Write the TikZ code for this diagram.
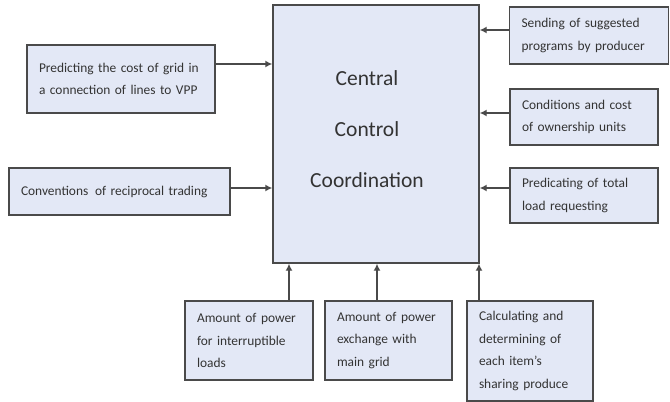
\documentclass[tikz,border=0pt]{standalone}
\usepackage{fontspec}
\setmainfont{Carlito}
\usetikzlibrary{arrows.meta}
\definecolor{boxfill}{HTML}{E3E8F6}
\definecolor{boxline}{HTML}{4A4A4A}
\definecolor{txt}{HTML}{333333}
\tikzset{
  infobox/.style={draw=boxline, line width=1.4pt, fill=boxfill, rectangle,
    inner xsep=12pt, inner ysep=0pt, align=left, text=txt,
    font=\fontsize{13.4}{22.5}\selectfont},
  arr/.style={draw=boxline, line width=1.4pt, -{Latex[length=7pt,width=7pt]}}
}
\begin{document}
\begin{tikzpicture}[x=1pt,y=-1pt]
\useasboundingbox (0,0) rectangle (670,402);
\node[infobox, minimum width=206pt, minimum height=258pt] (central) at (376,134) {};
\node[align=center, text=txt, font=\fontsize{21.5}{51}\selectfont] (ctext) at (367,129)
  {Central\\Control\\Coordination};
\node[infobox, minimum width=188pt, minimum height=68pt, text width=164pt] (l1) at (121,79)
  {Predicting the cost of grid in\\a connection of lines to VPP};
\node[infobox, minimum width=221pt, minimum height=47pt, text width=197pt] (l2) at (119.5,191.5)
  {Conventions\enspace of reciprocal trading};
\node[infobox, minimum width=159pt, minimum height=57pt, text width=135pt] (r1) at (589,35.5)
  {Sending of suggested\\programs by producer};
\node[infobox, minimum width=148pt, minimum height=56pt, text width=124pt] (r2) at (584,117)
  {Conditions and cost\\of ownership units};
\node[infobox, minimum width=148pt, minimum height=55pt, text width=124pt] (r3) at (584,195.5)
  {Predicating of total\\load requesting};
\node[infobox, minimum width=128pt, minimum height=79pt, text width=104pt] (b1) at (249,340.5)
  {Amount of power\\for interruptible\\loads};
\node[infobox, minimum width=127pt, minimum height=79pt, text width=103pt] (b2) at (388.5,340.5)
  {Amount of power\\exchange with\\main grid};
\node[infobox, minimum width=126pt, minimum height=100pt, text width=102pt] (b3) at (530,351)
  {Calculating and\\determining of\\each item's\\sharing produce};
\draw[arr] (l1.east |- 0,64) -- (central.west |- 0,64);
\draw[arr] (l2.east |- 0,188) -- (central.west |- 0,188);
\draw[arr] (r1.west |- 0,30) -- (central.east |- 0,30);
\draw[arr] (r2.west |- 0,113) -- (central.east |- 0,113);
\draw[arr] (r3.west |- 0,188) -- (central.east |- 0,188);
\draw[arr] (b1.north -| 289,0) -- (central.south -| 289,0);
\draw[arr] (b2.north -| 377,0) -- (central.south -| 377,0);
\draw[arr] (b3.north -| 479,0) -- (central.south -| 479,0);
\end{tikzpicture}
\end{document}
